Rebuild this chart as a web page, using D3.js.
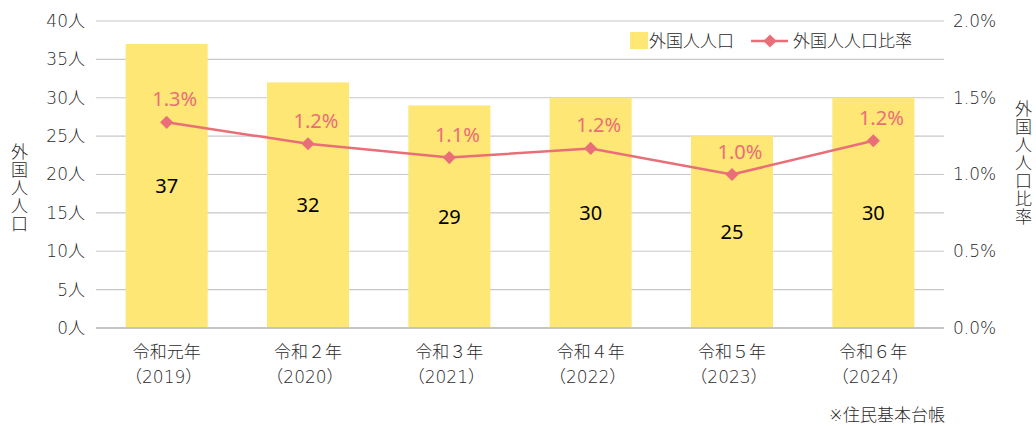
<!DOCTYPE html>
<html>
<head>
<meta charset="utf-8">
<script src="https://cdn.jsdelivr.net/npm/d3@7"></script>
<style>
  body { margin: 0; background: #fff; }
  svg text { font-family: "DejaVu Sans", "Noto Sans CJK JP", sans-serif; font-weight: 300; }
  svg text.val { font-family: "Noto Sans", sans-serif; font-weight: 400; }
</style>
</head>
<body>
<div id="chart"></div>
<script>
// data
const years = ["令和元年", "令和２年", "令和３年", "令和４年", "令和５年", "令和６年"];
const westernYears = ["（2019）", "（2020）", "（2021）", "（2022）", "（2023）", "（2024）"];
const population = [37, 32, 29, 30, 25, 30];
const ratio = [1.34, 1.2, 1.11, 1.17, 1.0, 1.22];
const ratioLabels = ["1.3%", "1.2%", "1.1%", "1.2%", "1.0%", "1.2%"];
const leftTicks = [0, 5, 10, 15, 20, 25, 30, 35, 40];
const rightTicks = [0, 0.5, 1.0, 1.5, 2.0];

const W = 1036, H = 426;
const margin = { top: 21, right: 92, bottom: 98, left: 96 };
const width = W - margin.left - margin.right,
      height = H - margin.top - margin.bottom;

const barColor = "#FEE774", lineColor = "#EA6E78", textColor = "#2a2a2a";

const svg = d3.select("#chart").append("svg")
    .attr("width", W).attr("height", H);
const g = svg.append("g").attr("transform", `translate(${margin.left},${margin.top})`);

const x = d3.scaleBand().domain(years).range([0, width])
    .paddingInner(0.42).paddingOuter(0.21);
const y = d3.scaleLinear().domain([0, 40]).range([height, 0]);
const y2 = d3.scaleLinear().domain([0, 2.0]).range([height, 0]);

// gridlines
g.append("g").selectAll("line").data(leftTicks).join("line")
    .attr("x1", 0).attr("x2", width)
    .attr("y1", d => y(d)).attr("y2", d => y(d))
    .attr("stroke", "#c8c8c8").attr("stroke-width", 1.2);

// left axis labels
g.append("g").selectAll("text").data(leftTicks).join("text")
    .attr("x", -11).attr("y", d => y(d)).attr("dy", "0.35em")
    .attr("text-anchor", "end").attr("font-size", 17).attr("fill", textColor)
    .text(d => d + "人");

// right axis labels
g.append("g").selectAll("text").data(rightTicks).join("text")
    .attr("x", width + 9).attr("y", d => y2(d)).attr("dy", "0.35em")
    .attr("text-anchor", "start").attr("font-size", 17).attr("fill", textColor)
    .text(d => d.toFixed(1) + "%");

// bars
g.append("g").selectAll("rect").data(population).join("rect")
    .attr("x", (d, i) => x(years[i]))
    .attr("width", x.bandwidth())
    .attr("y", d => y(d))
    .attr("height", d => y(0) - y(d))
    .attr("fill", barColor);

// bottom axis line
g.append("line").attr("x1", 0).attr("x2", width)
    .attr("y1", height).attr("y2", height)
    .attr("stroke", "#bbb").attr("stroke-width", 1.5);

// bar value labels
g.append("g").selectAll("text").data(population).join("text")
    .attr("class", "val")
    .attr("x", (d, i) => x(years[i]) + x.bandwidth() / 2)
    .attr("y", d => (y(d) + y(0)) / 2).attr("dy", "0.35em")
    .attr("text-anchor", "middle").attr("font-size", 20).attr("fill", "#000")
    .text(d => d);

// line
const line = d3.line()
    .x((d, i) => x(years[i]) + x.bandwidth() / 2)
    .y(d => y2(d));
g.append("path").datum(ratio)
    .attr("d", line).attr("fill", "none")
    .attr("stroke", lineColor).attr("stroke-width", 2.5);

const diamond = d3.symbol().type(d3.symbolDiamond2).size(110);
g.append("g").selectAll("path").data(ratio).join("path")
    .attr("d", diamond)
    .attr("transform", (d, i) => `translate(${x(years[i]) + x.bandwidth() / 2},${y2(d)})`)
    .attr("fill", lineColor);

g.append("g").selectAll("text").data(ratio).join("text")
    .attr("class", "val")
    .attr("x", (d, i) => x(years[i]) + x.bandwidth() / 2 + 8)
    .attr("y", d => y2(d) - 23).attr("dy", "0.35em")
    .attr("text-anchor", "middle").attr("font-size", 20).attr("fill", lineColor)
    .text((d, i) => ratioLabels[i]);

// x labels
const xl = g.append("g").selectAll("text").data(years).join("text")
    .attr("text-anchor", "middle").attr("font-size", 17).attr("fill", textColor);
xl.append("tspan")
    .attr("x", d => x(d) + x.bandwidth() / 2).attr("y", height + 30)
    .text(d => d);
xl.append("tspan")
    .attr("x", d => x(d) + x.bandwidth() / 2 - 3).attr("y", height + 55)
    .text((d, i) => westernYears[i]);

// axis titles (vertical)
svg.append("text")
    .attr("x", 18).attr("y", 143)
    .attr("font-size", 17).attr("fill", textColor)
    .style("writing-mode", "vertical-rl").style("text-orientation", "upright")
    .attr("letter-spacing", 1)
    .text("外国人人口");
svg.append("text")
    .attr("x", 1022).attr("y", 100)
    .attr("font-size", 17).attr("fill", textColor)
    .style("writing-mode", "vertical-rl").style("text-orientation", "upright")
    .attr("letter-spacing", 1)
    .text("外国人人口比率");

// legend
const lg = svg.append("g");
lg.append("rect").attr("x", 630).attr("y", 32).attr("width", 18).attr("height", 17).attr("fill", barColor);
lg.append("text").attr("x", 649).attr("y", 41).attr("dy", "0.35em")
    .attr("font-size", 17).attr("fill", textColor).text("外国人人口");
lg.append("line").attr("x1", 751).attr("x2", 788).attr("y1", 41).attr("y2", 41)
    .attr("stroke", lineColor).attr("stroke-width", 2.5);
lg.append("path").attr("d", diamond).attr("transform", "translate(770,41)").attr("fill", lineColor);
lg.append("text").attr("x", 793).attr("y", 41).attr("dy", "0.35em")
    .attr("font-size", 17).attr("fill", textColor).text("外国人人口比率");

// source note
svg.append("text").attr("x", 945).attr("y", 415).attr("dy", "0.35em")
    .attr("text-anchor", "end").attr("font-size", 17).attr("fill", textColor)
    .text("※住民基本台帳");
</script>
</body>
</html>
